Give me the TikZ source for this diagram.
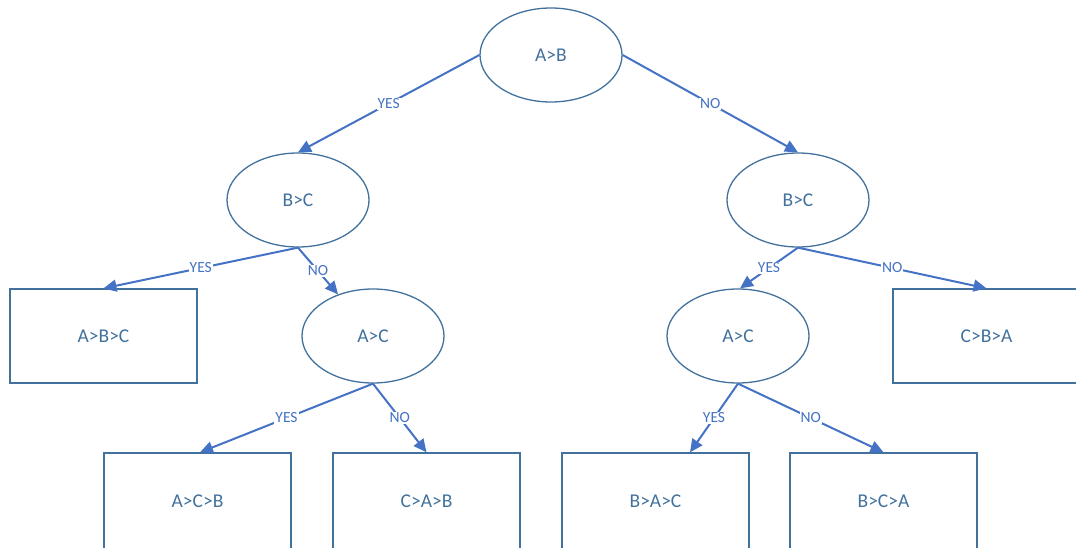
\documentclass[tikz,border=0pt]{standalone}
\usepackage{fontspec}
\setmainfont{Carlito}
\usetikzlibrary{arrows.meta,calc,shapes.geometric}
\definecolor{outline}{HTML}{41719C}
\definecolor{link}{HTML}{4472C4}
\begin{document}
\begin{tikzpicture}[x=1pt,y=-1pt,
  test/.style={ellipse,draw=outline,line width=1.3pt,minimum width=142pt,minimum height=94pt,
    inner sep=0pt,text=outline,font=\fontsize{19.5}{22}\selectfont},
  result/.style={rectangle,draw=outline,line width=1.3pt,minimum width=187pt,minimum height=94pt,
    inner sep=0pt,text=outline,font=\fontsize{19.5}{22}\selectfont},
  link/.style={draw=link,line width=2pt,-{Triangle[length=13pt,width=12pt]}},
  answer/.style={fill=white,inner sep=1pt,text=link,font=\fontsize{15.5}{17}\selectfont,pos=0.5}]
\useasboundingbox (0,0) rectangle (1076,548);
\clip (0,0) rectangle (1076,548);

% decision nodes
\node[test] (ab)  at (551,55)  {A>B};
\node[test] (bcl) at (298,200) {B>C};
\node[test] (bcr) at (798,200) {B>C};
\node[test] (acl) at (373,336) {A>C};
\node[test] (acr) at (738,336) {A>C};

% outcomes
\node[result] (abc) at (103.5,336) {A>B>C};
\node[result] (cba) at (986.5,336) {C>B>A};
\node[result,minimum height=96pt] (acb) at (197.5,501) {A>C>B};
\node[result,minimum height=96pt] (cab) at (426.5,501) {C>A>B};
\node[result,minimum height=96pt] (bac) at (655.5,501) {B>A>C};
\node[result,minimum height=96pt] (bca) at (883.5,501) {B>C>A};
\coordinate (bactop) at ($(bac.north)+(34.5,0)$);

% branches
\draw[link] (ab.west) -- node[answer]{YES} (bcl.north);
\draw[link] (ab.east) -- node[answer]{NO} (bcr.north);
\draw[link] (bcl.south) -- node[answer]{YES} (abc.north);
\draw[link] (bcl.south) -- node[answer]{NO} (acl.130);
\draw[link] (bcr.south) -- node[answer]{YES} ($(acr.north)+(2,0)$);
\draw[link] (bcr.south) -- node[answer]{NO} (cba.north);
\draw[link] (acl.south) -- node[answer]{YES} ($(acb.north)+(2.5,0)$);
\draw[link] (acl.south) -- node[answer]{NO} (cab.north);
\draw[link] (acr.south) -- node[answer]{YES} (bactop);
\draw[link] (acr.south) -- node[answer]{NO} (bca.north);
\end{tikzpicture}
\end{document}
